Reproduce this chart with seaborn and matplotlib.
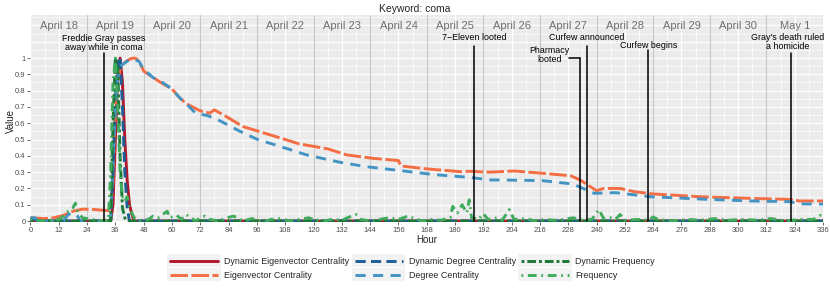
import numpy as np
import pandas as pd
import matplotlib
matplotlib.use('Agg')
import matplotlib.pyplot as plt
from matplotlib.lines import Line2D
from matplotlib.patches import Rectangle
from matplotlib.legend_handler import HandlerLine2D
from matplotlib.ticker import MultipleLocator, FixedLocator
import seaborn as sns

# ---- data (hour, value) ----
dyn_eig_hours = [0, 34, 35, 36, 37, 38, 39, 40, 41, 42, 43, 44, 336]
dyn_eig_values = [0, 0, 0.1, 0.5, 0.9, 1.0, 0.85, 0.5, 0.25, 0.1, 0.04, 0, 0]

eig_hours = [0, 6, 10, 14, 18, 22, 26, 30, 33, 34, 35, 36, 37, 38, 39, 41, 43, 44, 45, 46,
             47, 48, 51, 55, 60, 63, 66, 72, 76, 78, 83, 90, 97, 104, 114, 126, 134, 145,
             156, 157, 168, 182, 186, 195, 205, 217, 229, 233, 240, 243, 250, 256, 264,
             284, 305, 322, 326, 336]
eig_values = [0.02, 0.015, 0.02, 0.035, 0.06, 0.073, 0.072, 0.067, 0.064, 0.06, 0.25, 0.72,
              0.85, 0.93, 0.96, 0.985, 0.998, 1.0, 0.995, 0.98, 0.95, 0.92, 0.89, 0.852, 0.81,
              0.76, 0.72, 0.676, 0.662, 0.682, 0.641, 0.58, 0.549, 0.518, 0.473, 0.443, 0.406,
              0.385, 0.371, 0.338, 0.32, 0.303, 0.305, 0.3, 0.307, 0.293, 0.278, 0.252, 0.186,
              0.2, 0.2, 0.18, 0.166, 0.149, 0.139, 0.133, 0.123, 0.123]

dyn_deg_hours = [0, 2, 3, 34, 35, 36, 37, 38, 39, 40, 41, 42, 336]
dyn_deg_values = [0.01, 0.01, 0, 0, 0.3, 0.75, 1.0, 1.0, 0.7, 0.3, 0.08, 0, 0]

deg_hours = [0, 2, 3, 14, 16, 18, 20, 21, 34, 35, 36, 37, 38, 40, 42, 44, 46, 48, 52, 56,
             60, 63, 66, 70, 75, 79, 89, 96, 106, 117, 131, 142, 157, 171, 186, 195, 199,
             217, 230, 239, 248, 263, 284, 305, 322, 326, 336]
deg_values = [0.02, 0.02, 0, 0, 0.04, 0.05, 0.03, 0, 0, 0.35, 0.7, 0.88, 0.95, 0.97, 0.99,
              0.99, 0.98, 0.93, 0.88, 0.85, 0.81, 0.76, 0.72, 0.662, 0.647, 0.625, 0.549,
              0.502, 0.457, 0.406, 0.361, 0.334, 0.309, 0.285, 0.268, 0.252, 0.252, 0.248,
              0.227, 0.17, 0.174, 0.149, 0.135, 0.123, 0.119, 0.105, 0.104]

dyn_freq_hours = [0, 34, 35, 36, 37, 38, 39, 40, 41, 336]
dyn_freq_values = [0, 0, 0.6, 1.0, 0.95, 0.4, 0.08, 0.02, 0, 0]

freq_hours = [0, 4, 8, 12, 14, 16, 18, 19, 20, 22, 24, 26, 28, 33, 34, 35, 36, 37, 38, 39,
              40, 41, 42, 43, 44, 46, 50, 52, 54, 56, 58, 59, 62, 64, 66, 68, 70, 72, 74,
              76, 80, 82, 86, 88, 90, 94, 96, 100, 102, 106, 110, 114, 118, 120, 124, 128,
              132, 136, 138, 140, 144, 148, 152, 156, 160, 162, 166, 170, 174, 178, 179,
              181, 183, 185, 186, 187, 190, 192, 194, 198, 200, 203, 205, 210, 214, 218,
              222, 226, 230, 234, 238, 241, 243, 246, 248, 250, 252, 258, 262, 264, 266,
              272, 278, 284, 290, 296, 302, 308, 314, 320, 326, 332, 335, 336]
freq_values = [0.01, 0.0, 0.005, 0.01, 0.03, 0.06, 0.08, 0.11, 0.06, 0.02, 0.015, 0.01,
               0.005, 0, 0.3, 0.85, 1.0, 0.7, 0.3, 0.15, 0.12, 0.15, 0.08, 0.05, 0.02, 0,
               0.01, 0.03, 0.02, 0.04, 0.06, 0.02, 0.035, 0.01, 0.04, 0.02, 0.0, 0.02, 0.03,
               0.01, 0.0, 0.015, 0.03, 0.02, 0.0, 0.015, 0.005, 0.0, 0.01, 0.015, 0.0, 0.01,
               0.02, 0.01, 0.0, 0.01, 0.005, 0.03, 0.04, 0.01, 0.0, 0.01, 0.02, 0.01, 0.03,
               0.02, 0.0, 0.01, 0.005, 0.02, 0.09, 0.05, 0.1, 0.05, 0.13, 0.02, 0.01, 0.045,
               0.01, 0.02, 0.005, 0.07, 0.01, 0.015, 0.0, 0.01, 0.005, 0.01, 0.02, 0.005,
               0.01, 0.07, 0.015, 0.02, 0.01, 0.04, 0.005, 0.01, 0.005, 0.025, 0.01, 0.0,
               0.01, 0.005, 0.015, 0.005, 0.01, 0.005, 0.015, 0.0, 0.01, 0.01, 0.035, 0.02]

days = ['April 18', 'April 19', 'April 20', 'April 21', 'April 22', 'April 23', 'April 24',
        'April 25', 'April 26', 'April 27', 'April 28', 'April 29', 'April 30', 'May 1']

events = ['Freddie Gray passes\naway while in coma', '7\u2212Eleven looted', 'Pharmacy\nlooted',
          'Curfew announced', 'Curfew begins', "Gray's death ruled\na homicide"]
event_hours = [31, 188, 233, 236, 262, 322.5]


def main():
    sns.set_theme(style='darkgrid')
    plt.rcParams['font.family'] = ['Liberation Sans', 'DejaVu Sans']

    fig = plt.figure(figsize=(8.3, 2.97), dpi=100)
    ax = fig.add_axes([0.0367, 0.2525, 0.9549, 0.697])
    ax.set_facecolor('#EBEBEB')

    series = [
        ('Dynamic Eigenvector Centrality', dyn_eig_hours, dyn_eig_values, '#B2182B', '-'),
        ('Eigenvector Centrality', eig_hours, eig_values, '#F46D43', (0, (6, 1.2))),
        ('Dynamic Degree Centrality', dyn_deg_hours, dyn_deg_values, '#1D5E96', (0, (3.5, 1.8))),
        ('Degree Centrality', deg_hours, deg_values, '#4393C3', (0, (3.5, 2.5))),
        ('Dynamic Frequency', dyn_freq_hours, dyn_freq_values, '#1B7837', (0, (1, 1, 3, 1))),
        ('Frequency', freq_hours, freq_values, '#41AB5D', (0, (0.6, 1.6, 3, 1.6))),
    ]

    handles = []
    for name, xs, ys, col, ls in series:
        df = pd.DataFrame({'Hour': xs, 'Value': ys})
        sns.lineplot(data=df, x='Hour', y='Value', ax=ax, color=col, linestyle=ls,
                     linewidth=2.1, estimator=None, sort=False)
        handles.append(Line2D([], [], color=col, linestyle=ls, linewidth=2.1, label=name))

    # grid lines inside the strip area (above the labelled range)
    for v in [1.1, 1.2]:
        ax.axhline(v, color='white', linewidth=0.9, zorder=0.5)

    # day separators
    for k in range(1, 15):
        ax.axvline(24 * k, color='#C8C8C8', linewidth=0.9, zorder=1)
    for k, d in enumerate(days):
        ax.text(12 + 24 * k, 1.196, d, ha='center', va='center', fontsize=8, color='#6E6E6E')

    # events
    text_pos = [(31, 1.092), (188, 1.123), (220, 1.018), (236, 1.123), (262, 1.074), (321, 1.098)]
    line_tops = [1.029, 1.074, 0.998, 1.074, 1.049, 1.029]
    for lab, h, (tx, ty), top in zip(events, event_hours, text_pos, line_tops):
        ax.plot([h, h], [0, top], color='black', linewidth=1.1, zorder=5)
        ax.text(tx, ty, lab, ha='center', va='center', fontsize=6.4, color='black',
                linespacing=0.95, zorder=6)
    ax.plot([228.2, 233], [0.998, 0.998], color='black', linewidth=1.1, zorder=5)

    ax.set_xlim(0, 336)
    ax.set_ylim(-0.006, 1.264)
    ax.xaxis.set_major_locator(MultipleLocator(12))
    ax.xaxis.set_minor_locator(MultipleLocator(6))
    yt = np.round(np.arange(0, 1.05, 0.1), 2)
    ax.yaxis.set_major_locator(FixedLocator(yt))
    ax.yaxis.set_minor_locator(FixedLocator(np.round(np.arange(0.05, 1.3, 0.1), 2)))
    ax.set_yticklabels(['0'] + ['%.1f' % v for v in yt[1:-1]] + ['1'])
    ax.grid(which='major', color='white', linewidth=0.9)
    ax.grid(which='minor', color='white', linewidth=0.45)
    ax.tick_params(which='major', length=2, width=0.6, color='#4D4D4D', labelsize=5.5,
                   labelcolor='#4D4D4D', pad=1.5, bottom=True, left=True)
    ax.tick_params(which='minor', length=0)
    for s in ax.spines.values():
        s.set_visible(False)

    ax.set_xlabel('Hour', fontsize=7, labelpad=1)
    ax.set_ylabel('Value', fontsize=7)
    ax.yaxis.set_label_coords(-0.018, 0.49)
    fig.text(0.5, 0.97, 'Keyword: coma', ha='center', va='center', fontsize=7.5)

    class KeyHandler(HandlerLine2D):
        def create_artists(self, legend, orig_handle, xdescent, ydescent, width, height,
                           fontsize, trans):
            arts = super().create_artists(legend, orig_handle, xdescent, ydescent, width,
                                          height, fontsize, trans)
            bg = Rectangle((-xdescent - 2, -ydescent - 2.5), width + 4, height + 5,
                           facecolor='#F2F2F2', edgecolor='none', transform=trans)
            return [bg] + list(arts)

    fig.legend(handles=handles, loc='center', bbox_to_anchor=(0.497, 0.097), ncol=3,
               frameon=False, fontsize=6.4, handlelength=5.4, handletextpad=0.7,
               columnspacing=0.6, labelspacing=0.55,
               handler_map={Line2D: KeyHandler()})

    plt.savefig('out.png', dpi=100)


if __name__ == '__main__':
    main()
